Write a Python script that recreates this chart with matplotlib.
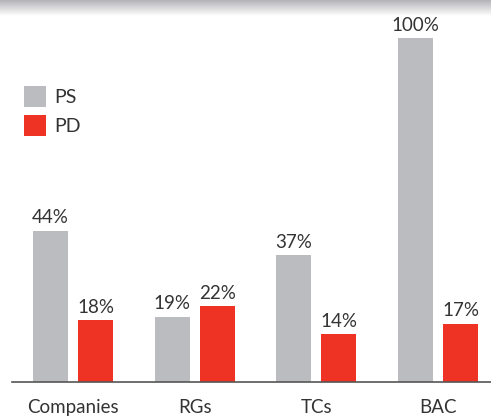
import numpy as np
import matplotlib.pyplot as plt
from matplotlib.colors import LinearSegmentedColormap

categories = ["Companies", "RGs", "TCs", "BAC"]
ps_values = [44, 19, 37, 100]
pd_values = [18, 22, 14, 17]
series_names = ["PS", "PD"]

gray = "#bbbcc0"
red = "#ee3224"

plt.rcParams['font.family'] = ['Lato', 'DejaVu Sans']

W, H = 491, 417
fig = plt.figure(figsize=(W / 100, H / 100), dpi=100)

# shadow band at the top
sh = fig.add_axes([0, 1 - 16 / H, 1, 16 / H])
grad = np.linspace(0, 1, 64).reshape(-1, 1)
cmap = LinearSegmentedColormap.from_list("sh", ["#b4b4b8", "#ffffff"])
sh.imshow(grad, aspect="auto", cmap=cmap, extent=[0, 1, 0, 1])
sh.axis("off")

ax = fig.add_axes([12 / W, (H - 382) / H, 1 - 12 / W, (382 - 20) / H])
x = np.arange(len(categories))
step = 121.7
w = 35 / step
off = 22.5 / step

b1 = ax.bar(x - off, ps_values, w, color=gray, label=series_names[0])
b2 = ax.bar(x + off, pd_values, w, color=red, label=series_names[1])

for bars, vals in [(b1, ps_values), (b2, pd_values)]:
    for b, v in zip(bars, vals):
        ax.annotate(f"{v}%", (b.get_x() + b.get_width() / 2, v),
                    xytext=(0, 3), textcoords="offset points",
                    ha="center", va="bottom", fontsize=13.5, color="#333333")

ax.set_xlim(-(73 - 12) / step, (491 - 73) / step)
ax.set_ylim(0, 100 * 362 / 344)
ax.set_xticks(x)
ax.set_xticklabels(categories, fontsize=13.5, color="#333333")
ax.tick_params(axis="x", length=0, pad=12.5)
ax.set_yticks([])
for s in ["top", "right", "left"]:
    ax.spines[s].set_visible(False)
ax.spines["bottom"].set_color("#555555")
ax.spines["bottom"].set_linewidth(1.2)

ax.legend(loc="upper left", bbox_to_anchor=(12 / 479, (382 - 86) / 362),
          frameon=False, borderpad=0, borderaxespad=0,
          fontsize=14, handlelength=1.15, handleheight=1.3,
          handletextpad=0.4, labelspacing=0.4, labelcolor="#333333")

fig.savefig("out.png", dpi=100)
